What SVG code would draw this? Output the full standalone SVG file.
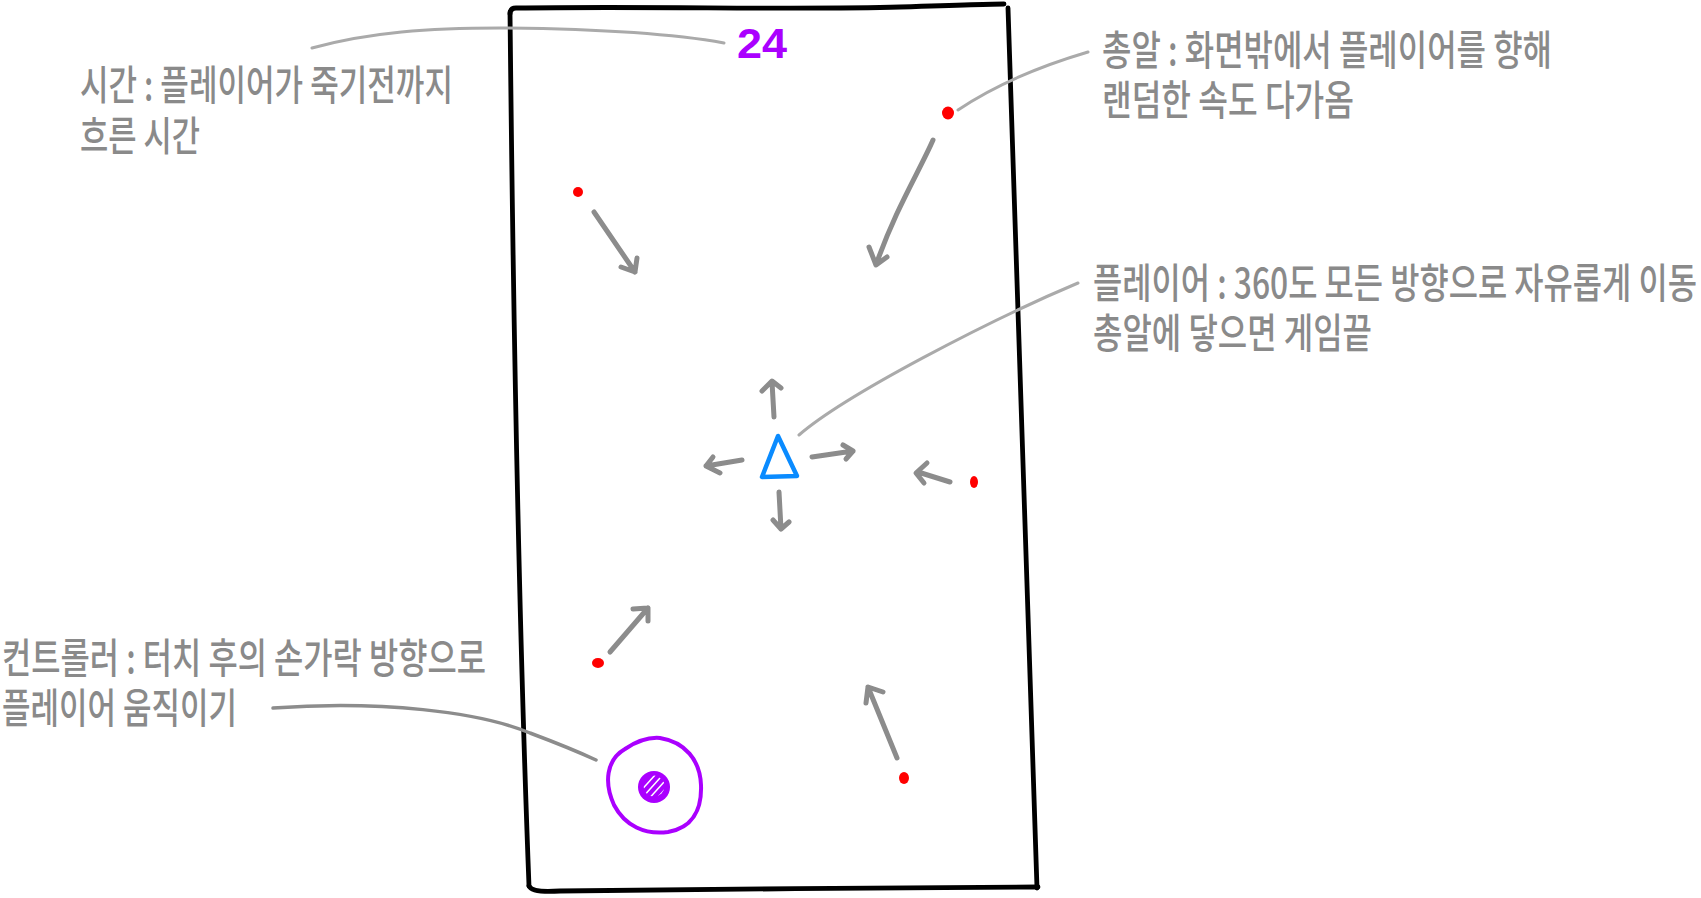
<svg xmlns="http://www.w3.org/2000/svg" width="1701" height="898" viewBox="0 0 1701 898">
<style>
.lbl{font-family:"Noto Sans CJK KR","Noto Sans",sans-serif;font-size:41px;font-weight:500;fill:#8a8a8a;}
.lead{fill:none;stroke:#aaaaaa;stroke-width:3;stroke-linecap:round;}
.arr{fill:none;stroke:#8c8c8c;stroke-width:5;stroke-linecap:round;stroke-linejoin:round;}
.frame{fill:none;stroke:#000;stroke-width:4.8;stroke-linecap:round;stroke-linejoin:round;}
.dot{fill:#ff0000;}
</style>
<defs>
<clipPath id="hc"><circle cx="654" cy="786" r="10.5"/></clipPath>
</defs>
<g id="screen">
<path class="frame" d="M510,14 Q510,8 516,8 C650,6 800,10 900,7 C960,5 990,4 1004,4"/>
<path class="frame" d="M1008,8 C1012,200 1022,500 1037,888"/>
<path class="frame" d="M1038,887 C900,888 700,889 560,891 Q532,893 529,886"/>
<path class="frame" d="M510,12 C513,300 518,600 529,886"/>
</g>
<g id="timer">
<text x="737" y="58" textLength="50" lengthAdjust="spacingAndGlyphs" style="font-family:'Liberation Sans',sans-serif;font-weight:bold;font-size:42px;fill:#aa00ff">24</text>
</g>
<g id="player">
<path d="M778,436 L762,477 L797,476 Z" fill="none" stroke="#0a8bff" stroke-width="4.5" stroke-linejoin="round"/>
</g>
<g id="controller">
<path d="M660,738 C685,742 700,760 701,785 C702,810 692,828 668,832 C645,835 625,826 614,805 C604,783 606,760 625,749 C637,741 648,737 660,738 Z" fill="none" stroke="#aa00ff" stroke-width="4"/>
<circle cx="654" cy="787" r="16" fill="#aa00ff"/>
<g clip-path="url(#hc)" stroke="#fff" stroke-width="1.5">
<line x1="634" y1="790" x2="652" y2="770"/>
<line x1="638" y1="794" x2="656" y2="774"/>
<line x1="642" y1="798" x2="660" y2="778"/>
<line x1="646" y1="802" x2="664" y2="782"/>
<line x1="650" y1="806" x2="668" y2="786"/>
<line x1="654" y1="810" x2="672" y2="790"/>
</g>
</g>
<g id="bullets">
<ellipse class="dot" cx="948" cy="113" rx="6" ry="6.5"/>
<ellipse class="dot" cx="578" cy="192" rx="5" ry="5"/>
<ellipse class="dot" cx="974" cy="482" rx="4" ry="6"/>
<ellipse class="dot" cx="598" cy="663" rx="6" ry="5"/>
<ellipse class="dot" cx="904" cy="778" rx="5" ry="6"/>
</g>
<g id="labels">
<text class="lbl" x="80" y="100" textLength="373" lengthAdjust="spacingAndGlyphs">시간 : 플레이어가 죽기전까지</text>
<text class="lbl" x="80" y="151" textLength="120" lengthAdjust="spacingAndGlyphs">흐른 시간</text>
<text class="lbl" x="1102" y="65" textLength="450" lengthAdjust="spacingAndGlyphs">총알 : 화면밖에서 플레이어를 향해</text>
<text class="lbl" x="1102" y="115" textLength="252" lengthAdjust="spacingAndGlyphs">랜덤한 속도 다가옴</text>
<text class="lbl" x="1093" y="298" textLength="604" lengthAdjust="spacingAndGlyphs">플레이어 : 360도 모든 방향으로 자유롭게 이동</text>
<text class="lbl" x="1093" y="348" textLength="279" lengthAdjust="spacingAndGlyphs">총알에 닿으면 게임끝</text>
<text class="lbl" x="2" y="673" textLength="484" lengthAdjust="spacingAndGlyphs">컨트롤러 : 터치 후의 손가락 방향으로</text>
<text class="lbl" x="2" y="723" textLength="235" lengthAdjust="spacingAndGlyphs">플레이어 움직이기</text>
</g>
<g id="connectors">
<path class="lead" d="M312,48 C370,32 430,28 500,28 C600,29 680,35 724,43"/>
<path class="lead" d="M958,110 Q1010,75 1088,52"/>
<path class="lead" d="M799,435 C845,395 990,320 1078,283"/>
<path class="lead" d="M273,708 C380,700 480,712 530,733 Q570,748 596,760" style="stroke:#8c8c8c;stroke-width:3.5"/>
<path class="arr" d="M594,212 L635,272 M621,267 L635,272 L637,258"/>
<path class="arr" d="M933,140 C920,170 895,210 876,265 M869,247 L876,265 L887,257"/>
<path class="arr" d="M950,482 L918,472 M927,463 L916,473 L924,483"/>
<path class="arr" d="M610,652 L648,608 M633,609 L648,608 L648,621"/>
<path class="arr" d="M897,758 L868,687 M866,703 L868,687 L883,692"/>
<path class="arr" d="M774,417 L772,382 M762,391 L772,381 L781,388"/>
<path class="arr" d="M742,460 L706,466 M713,457 L706,466 L720,473"/>
<path class="arr" d="M812,457 L853,451 M843,445 L853,451 L846,459"/>
<path class="arr" d="M779,492 L781,529 M773,520 L781,529 L789,522"/>
</g>
</svg>
